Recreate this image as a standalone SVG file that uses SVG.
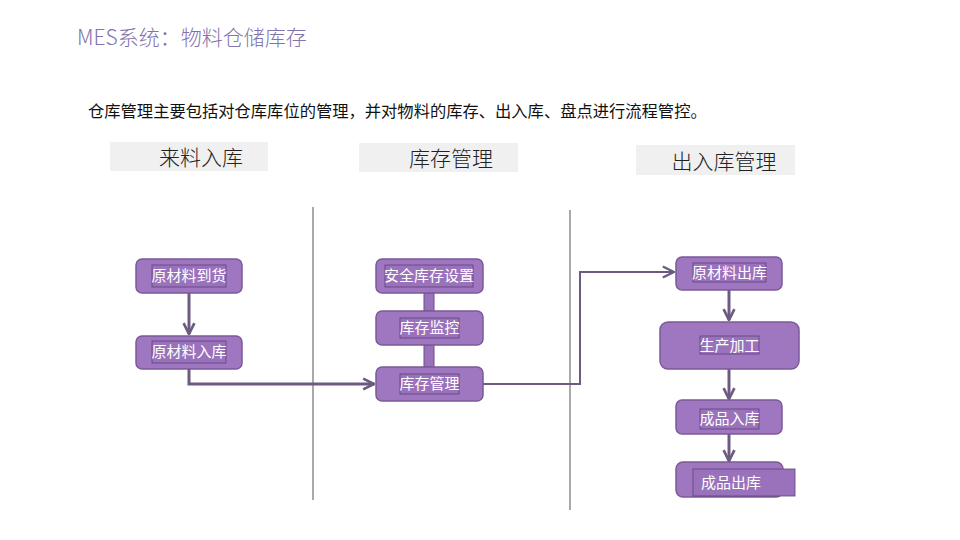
<svg xmlns="http://www.w3.org/2000/svg" width="960" height="540" viewBox="0 0 960 540">
<style>
.title{font-family:"Noto Sans CJK SC","Liberation Sans",sans-serif;font-size:21px;font-weight:300;fill:#8273ad}
.sub{font-family:"Noto Sans CJK SC","Liberation Sans",sans-serif;font-size:16.3px;fill:#111}
.hdr{fill:#f0f0f0}
.hdrt{font-family:"Liberation Serif","Noto Sans CJK SC",serif;font-size:21px;font-weight:300;fill:#222;text-anchor:middle}
.node{fill:#9f77c1;stroke:#7b5a98;stroke-width:1.5}
.tb{fill:#9a72bb;stroke:#5e3f7c;stroke-width:0.8}
.nt{font-family:"Noto Sans CJK SC","Liberation Sans",sans-serif;font-size:15px;fill:#fff;text-anchor:middle}
.sep{stroke:#555;stroke-width:1;fill:none}
.conn{stroke:#6c5a80;fill:none;stroke-width:3}
.bar{fill:#9a72bb;stroke:#6a4f88;stroke-width:1}
</style>
<defs>
<marker id="ah" viewBox="0 0 10 10" refX="9" refY="5" markerWidth="4.5" markerHeight="4.5" orient="auto" markerUnits="strokeWidth">
<path d="M1,1 L9,5 L1,9" fill="none" stroke="#6c5a80" stroke-width="2"/>
</marker>
<marker id="ah2" viewBox="0 0 10 10" refX="9" refY="5" markerWidth="7" markerHeight="7" orient="auto" markerUnits="strokeWidth">
<path d="M1,1 L9,5 L1,9" fill="none" stroke="#6c5a80" stroke-width="1.6"/>
</marker>
</defs>
<rect width="960" height="540" fill="#fff"/>
<text class="title" x="77" y="45">MES系统：物料仓储库存</text>
<text class="sub" x="88" y="117">仓库管理主要包括对仓库库位的管理，并对物料的库存、出入库、盘点进行流程管控。</text>

<g id="headers">
<rect class="hdr" x="110" y="142" width="158" height="29"/>
<text class="hdrt" x="201" y="165">来料入库</text>
<rect class="hdr" x="359" y="143" width="159" height="29"/>
<text class="hdrt" x="451" y="166">库存管理</text>
<rect class="hdr" x="636" y="145" width="159" height="30"/>
<text class="hdrt" x="724" y="169">出入库管理</text>
</g>

<g id="separators">
<line class="sep" x1="313" y1="207" x2="313" y2="500"/>
<line class="sep" x1="570" y1="210" x2="570" y2="510"/>
</g>

<g id="connectors">
<line class="conn" x1="189" y1="293" x2="189" y2="334" marker-end="url(#ah)"/>
<polyline class="conn" points="189,369 189,384 374,384" marker-end="url(#ah)"/>
<polyline class="conn" style="stroke-width:2" points="483,384 580,384 580,272 674,272" marker-end="url(#ah2)"/>
<line class="conn" x1="729" y1="290" x2="729" y2="320" marker-end="url(#ah)"/>
<line class="conn" x1="729" y1="369" x2="729" y2="399" marker-end="url(#ah)"/>
<line class="conn" x1="729" y1="434" x2="729" y2="461" marker-end="url(#ah)"/>
<rect class="bar" x="424" y="293" width="10" height="18"/>
<rect class="bar" x="424" y="345" width="10" height="22"/>
</g>

<g id="n1">
<rect class="node" x="136" y="259" width="106" height="34" rx="6"/>
<rect class="tb" x="152" y="265" width="74" height="22"/>
<text class="nt" x="189" y="281">原材料到货</text>
</g>
<g id="n2">
<rect class="node" x="136" y="336" width="106" height="33" rx="6"/>
<rect class="tb" x="152" y="341" width="74" height="22"/>
<text class="nt" x="189" y="357">原材料入库</text>
</g>
<g id="n3">
<rect class="node" x="376" y="259" width="107" height="34" rx="6"/>
<rect class="tb" x="385" y="265" width="88" height="22"/>
<text class="nt" x="429" y="281">安全库存设置</text>
</g>
<g id="n4">
<rect class="node" x="376" y="311" width="107" height="34" rx="6"/>
<rect class="tb" x="400" y="318" width="59" height="20"/>
<text class="nt" x="429.5" y="333">库存监控</text>
</g>
<g id="n5">
<rect class="node" x="376" y="367" width="107" height="34" rx="6"/>
<rect class="tb" x="400" y="374" width="59" height="20"/>
<text class="nt" x="429.5" y="389">库存管理</text>
</g>
<g id="n6">
<rect class="node" x="676" y="257" width="106" height="33" rx="6"/>
<rect class="tb" x="693" y="263" width="73" height="19"/>
<text class="nt" x="729.5" y="278">原材料出库</text>
</g>
<g id="n7">
<rect class="node" x="660" y="322" width="139" height="47" rx="8"/>
<rect class="tb" x="700" y="336" width="59" height="18"/>
<text class="nt" x="729.5" y="351">生产加工</text>
</g>
<g id="n8">
<rect class="node" x="676" y="400" width="106" height="34" rx="6"/>
<rect class="tb" x="700" y="409" width="59" height="20"/>
<text class="nt" x="729.5" y="424">成品入库</text>
</g>
<g id="n9">
<rect class="node" x="676" y="462" width="107" height="35" rx="7"/>
<rect class="tb" x="693" y="469" width="102" height="27"/>
<text class="nt" x="731" y="488">成品出库</text>
</g>
</svg>
